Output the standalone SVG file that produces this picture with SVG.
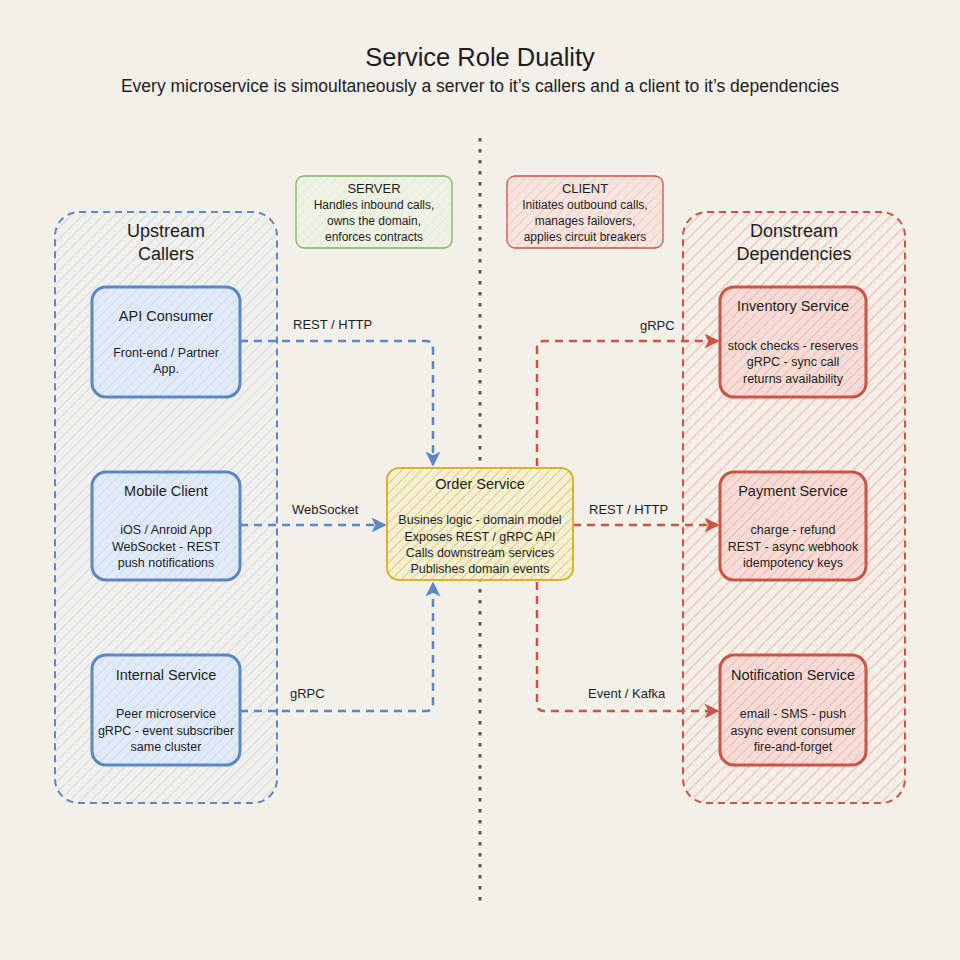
<svg xmlns="http://www.w3.org/2000/svg" width="960" height="960" viewBox="0 0 960 960">
<defs>
<pattern id="hBlueLight" patternUnits="userSpaceOnUse" width="7.5" height="7.5" patternTransform="rotate(45)"><line x1="0" y1="0" x2="0" y2="7.5" stroke="#c9dbf5" stroke-width="2"/></pattern>
<pattern id="hBlue" patternUnits="userSpaceOnUse" width="7" height="7" patternTransform="rotate(45)"><rect width="7" height="7" fill="#e1eaf8"/><line x1="0" y1="0" x2="0" y2="7" stroke="#c2d4f0" stroke-width="1.3"/></pattern>
<pattern id="hRedLight" patternUnits="userSpaceOnUse" width="8.5" height="8.5" patternTransform="rotate(45)"><line x1="0" y1="0" x2="0" y2="8.5" stroke="#f5b6ad" stroke-width="2.2"/></pattern>
<pattern id="hRed" patternUnits="userSpaceOnUse" width="7" height="7" patternTransform="rotate(45)"><rect width="7" height="7" fill="#f6dcd6"/><line x1="0" y1="0" x2="0" y2="7" stroke="#f2aca2" stroke-width="1.5"/></pattern>
<pattern id="hGreen" patternUnits="userSpaceOnUse" width="7" height="7" patternTransform="rotate(45)"><rect width="7" height="7" fill="#eef1e4"/><line x1="0" y1="0" x2="0" y2="7" stroke="#d6e6c8" stroke-width="1.2"/></pattern>
<pattern id="hRedSmall" patternUnits="userSpaceOnUse" width="7" height="7" patternTransform="rotate(45)"><rect width="7" height="7" fill="#f6e4de"/><line x1="0" y1="0" x2="0" y2="7" stroke="#f1b9b0" stroke-width="1.2"/></pattern>
<pattern id="hYellow" patternUnits="userSpaceOnUse" width="7" height="7" patternTransform="rotate(45)"><rect width="7" height="7" fill="#f4eedb"/><line x1="0" y1="0" x2="0" y2="7" stroke="#ddcb2e" stroke-width="1.6"/></pattern>
<marker id="aBlue" viewBox="0 0 10 10" refX="9" refY="5" markerWidth="6" markerHeight="6" markerUnits="strokeWidth" orient="auto"><path d="M0,0 L10,5 L0,10 L2.5,5 Z" fill="#5b87c6"/></marker>
<marker id="aRed" viewBox="0 0 10 10" refX="9" refY="5" markerWidth="6" markerHeight="6" markerUnits="strokeWidth" orient="auto"><path d="M0,0 L10,5 L0,10 L2.5,5 Z" fill="#cc5446"/></marker>
<style>
text{font-family:"Liberation Sans",Arial,sans-serif;fill:#1e1e1e;text-anchor:middle}
.title{font-size:25.5px}
.sub{font-size:17.5px}
.ct{font-size:18px}
.nt{font-size:14.5px}
.nb{font-size:12.5px}
.lb{font-size:13px;text-anchor:start}
.sb{font-size:13px}
.sbb{font-size:12px}
.blueC{fill:url(#hBlueLight);stroke:#5b87c6;stroke-width:2;stroke-dasharray:7 5}
.redC{fill:url(#hRedLight);stroke:#cc5446;stroke-width:2;stroke-dasharray:7 5}
.blueN{fill:url(#hBlue);stroke:#5b87c6;stroke-width:3}
.redN{fill:url(#hRed);stroke:#cc5446;stroke-width:3}
.edgeB{fill:none;stroke:#5b87c6;stroke-width:2.5;stroke-dasharray:8 6;marker-end:url(#aBlue)}
.edgeR{fill:none;stroke:#cc5446;stroke-width:2.5;stroke-dasharray:8 6;marker-end:url(#aRed)}
</style>
</defs>
<rect width="960" height="960" fill="#f3efe9"/>
<g id="header">
<text class="title" x="480" y="66">Service Role Duality</text>
<text class="sub" x="480" y="92">Every microservice is simoultaneously a server to it’s callers and a client to it’s dependencies</text>
</g>
<line id="divider" x1="480" y1="138" x2="480" y2="903" stroke="#5e5a57" stroke-width="3" stroke-dasharray="3.5 7.5"/>
<g id="upstream">
<rect class="blueC" x="55" y="212" width="222" height="591" rx="24"/>
<text class="ct" x="166" y="237">Upstream</text>
<text class="ct" x="166" y="260">Callers</text>
</g>
<g id="downstream">
<rect class="redC" x="683" y="212" width="222" height="591" rx="24"/>
<text class="ct" x="794" y="237">Donstream</text>
<text class="ct" x="794" y="260">Dependencies</text>
</g>
<g id="server-note">
<rect x="296" y="176" width="156" height="72" rx="8" fill="url(#hGreen)" stroke="#7fb35f" stroke-width="1.3"/>
<text class="sb" x="374" y="193">SERVER</text>
<text class="sbb" x="374" y="209">Handles inbound calls,</text>
<text class="sbb" x="374" y="225">owns the domain,</text>
<text class="sbb" x="374" y="241">enforces contracts</text>
</g>
<g id="client-note">
<rect x="507" y="176" width="156" height="72" rx="8" fill="url(#hRedSmall)" stroke="#cc5446" stroke-width="1.3"/>
<text class="sb" x="585" y="193">CLIENT</text>
<text class="sbb" x="585" y="209">Initiates outbound calls,</text>
<text class="sbb" x="585" y="225">manages failovers,</text>
<text class="sbb" x="585" y="241">applies circuit breakers</text>
</g>
<g id="connectors">
<path class="edgeB" d="M240,341 H426 Q433,341 433,348 V465"/>
<path class="edgeB" d="M240,525 H385"/>
<path class="edgeB" d="M240,711 H426 Q433,711 433,704 V583"/>
<path class="edgeR" d="M537,466 V348 Q537,341 544,341 H718"/>
<path class="edgeR" d="M573,525 H718"/>
<path class="edgeR" d="M537,582 V704 Q537,711 544,711 H718"/>
<text class="lb" x="293" y="329">REST / HTTP</text>
<text class="lb" x="292" y="514">WebSocket</text>
<text class="lb" x="290" y="698">gRPC</text>
<text class="lb" x="640" y="330">gRPC</text>
<text class="lb" x="589" y="514">REST / HTTP</text>
<text class="lb" x="588" y="698">Event / Kafka</text>
</g>
<g id="api-consumer">
<rect class="blueN" x="92" y="287" width="148" height="110" rx="14"/>
<text class="nt" x="166" y="321">API Consumer</text>
<text class="nb" x="166" y="357">Front-end / Partner</text>
<text class="nb" x="166" y="373">App.</text>
</g>
<g id="mobile-client">
<rect class="blueN" x="92" y="472" width="148" height="108" rx="14"/>
<text class="nt" x="166" y="496">Mobile Client</text>
<text class="nb" x="166" y="534">iOS / Anroid App</text>
<text class="nb" x="166" y="551">WebSocket - REST</text>
<text class="nb" x="166" y="567">push notifications</text>
</g>
<g id="internal-service">
<rect class="blueN" x="92" y="655" width="148" height="110" rx="14"/>
<text class="nt" x="166" y="680">Internal Service</text>
<text class="nb" x="166" y="718">Peer microservice</text>
<text class="nb" x="166" y="735">gRPC - event subscriber</text>
<text class="nb" x="166" y="751">same cluster</text>
</g>
<g id="order-service">
<rect x="387" y="468" width="186" height="112" rx="12" fill="url(#hYellow)" stroke="#dcb22a" stroke-width="2"/>
<text class="nt" x="480" y="489">Order Service</text>
<text class="nb" x="480" y="524">Busines logic - domain model</text>
<text class="nb" x="480" y="541">Exposes REST / gRPC API</text>
<text class="nb" x="480" y="557">Calls downstream services</text>
<text class="nb" x="480" y="573">Publishes domain events</text>
</g>
<g id="inventory-service">
<rect class="redN" x="720" y="287" width="146" height="110" rx="14"/>
<text class="nt" x="793" y="311">Inventory Service</text>
<text class="nb" x="793" y="350">stock checks - reserves</text>
<text class="nb" x="793" y="366">gRPC - sync call</text>
<text class="nb" x="793" y="383">returns availability</text>
</g>
<g id="payment-service">
<rect class="redN" x="720" y="472" width="146" height="108" rx="14"/>
<text class="nt" x="793" y="496">Payment Service</text>
<text class="nb" x="793" y="534">charge - refund</text>
<text class="nb" x="793" y="551">REST - async webhook</text>
<text class="nb" x="793" y="567">idempotency keys</text>
</g>
<g id="notification-service">
<rect class="redN" x="720" y="655" width="146" height="110" rx="14"/>
<text class="nt" x="793" y="680">Notification Service</text>
<text class="nb" x="793" y="718">email - SMS - push</text>
<text class="nb" x="793" y="735">async event consumer</text>
<text class="nb" x="793" y="751">fire-and-forget</text>
</g>
</svg>
